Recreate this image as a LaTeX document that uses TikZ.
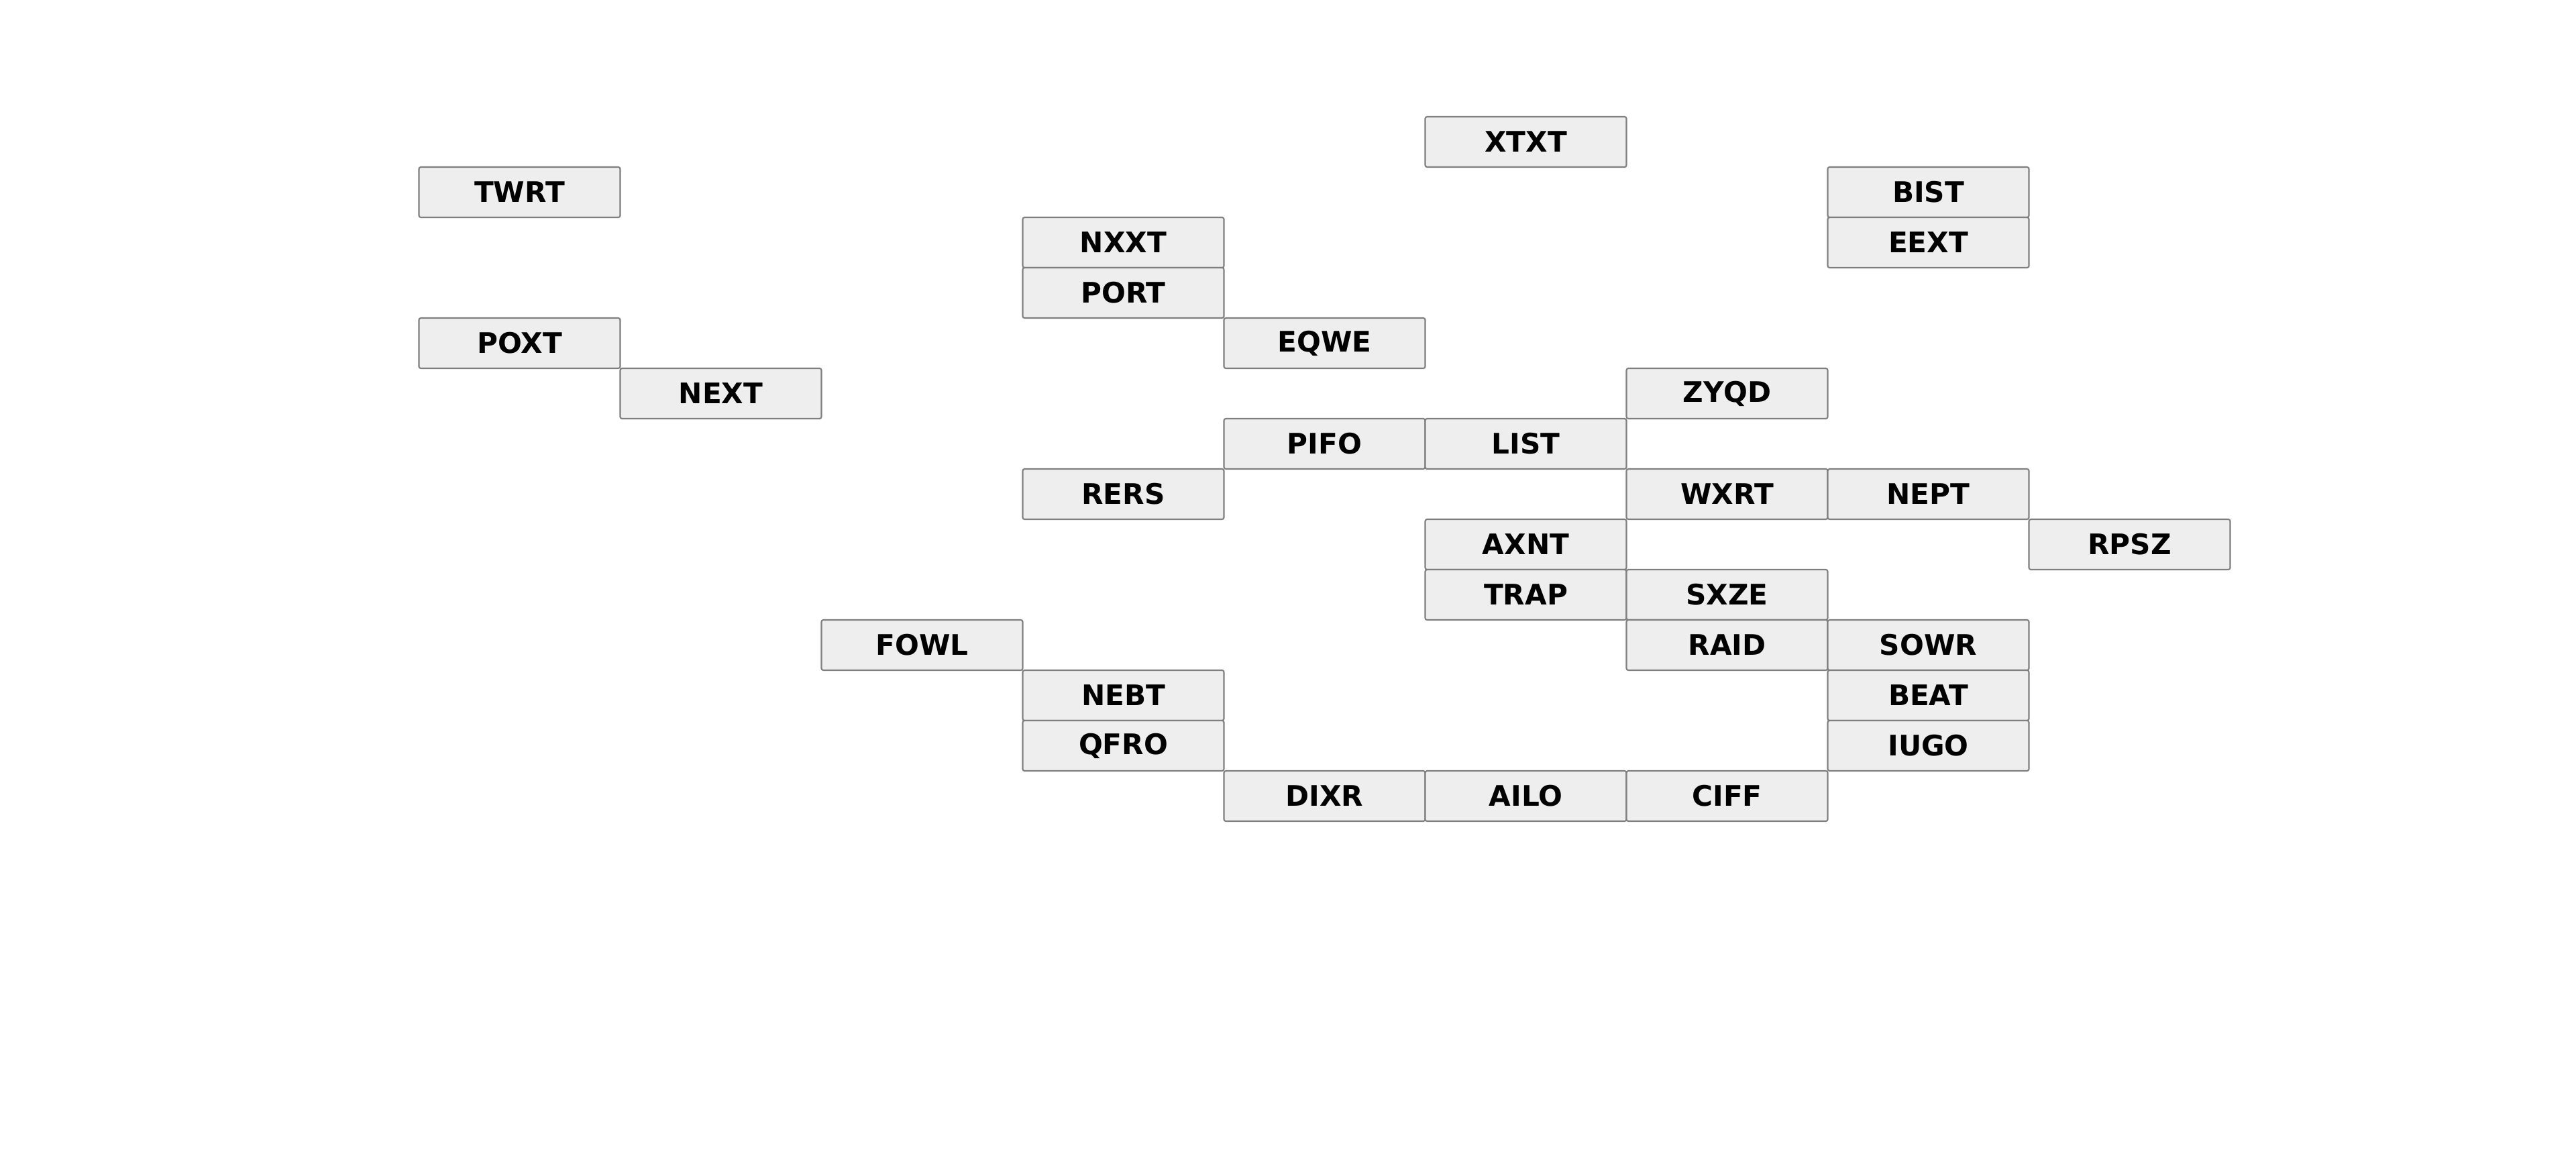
\documentclass[tikz,border=0pt]{standalone}
\usepackage{fontspec}
\setmainfont{DejaVu Sans}
\newcommand{\grid}{
\def\cw{3.0}    % cell width
\def\rh{0.75}   % cell height
\def\xo{7.745}  % centre of first column
\def\yo{-2.115} % centre of first row
}
\definecolor{cellfill}{HTML}{EEEEEE}
\definecolor{celledge}{HTML}{7F7F7F}
\tikzset{cell/.style={draw=celledge,fill=cellfill,line width=0.6pt,rounded corners=0.8pt,
  minimum width=3cm,minimum height=0.75cm,inner sep=0pt,
  font=\fontsize{12}{14}\selectfont\bfseries}}

\begin{document}
\begin{tikzpicture}
  \grid
  \useasboundingbox (0,0) rectangle (38.4,-17.31);
  \node[cell] (xtxt) at ({\xo+5*\cw},{\yo-0*\rh})  {XTXT};
  \node[cell] (twrt) at ({\xo+0*\cw},{\yo-1*\rh})  {TWRT};
  \node[cell] (bist) at ({\xo+7*\cw},{\yo-1*\rh})  {BIST};
  \node[cell] (nxxt) at ({\xo+3*\cw},{\yo-2*\rh})  {NXXT};
  \node[cell] (eext) at ({\xo+7*\cw},{\yo-2*\rh})  {EEXT};
  \node[cell] (port) at ({\xo+3*\cw},{\yo-3*\rh})  {PORT};
  \node[cell] (poxt) at ({\xo+0*\cw},{\yo-4*\rh})  {POXT};
  \node[cell] (eqwe) at ({\xo+4*\cw},{\yo-4*\rh})  {EQWE};
  \node[cell] (next) at ({\xo+1*\cw},{\yo-5*\rh})  {NEXT};
  \node[cell] (zyqd) at ({\xo+6*\cw},{\yo-5*\rh})  {ZYQD};
  \node[cell] (pifo) at ({\xo+4*\cw},{\yo-6*\rh})  {PIFO};
  \node[cell] (list) at ({\xo+5*\cw},{\yo-6*\rh})  {LIST};
  \node[cell] (rers) at ({\xo+3*\cw},{\yo-7*\rh})  {RERS};
  \node[cell] (wxrt) at ({\xo+6*\cw},{\yo-7*\rh})  {WXRT};
  \node[cell] (nept) at ({\xo+7*\cw},{\yo-7*\rh})  {NEPT};
  \node[cell] (axnt) at ({\xo+5*\cw},{\yo-8*\rh})  {AXNT};
  \node[cell] (rpsz) at ({\xo+8*\cw},{\yo-8*\rh})  {RPSZ};
  \node[cell] (trap) at ({\xo+5*\cw},{\yo-9*\rh})  {TRAP};
  \node[cell] (sxze) at ({\xo+6*\cw},{\yo-9*\rh})  {SXZE};
  \node[cell] (fowl) at ({\xo+2*\cw},{\yo-10*\rh}) {FOWL};
  \node[cell] (raid) at ({\xo+6*\cw},{\yo-10*\rh}) {RAID};
  \node[cell] (sowr) at ({\xo+7*\cw},{\yo-10*\rh}) {SOWR};
  \node[cell] (nebt) at ({\xo+3*\cw},{\yo-11*\rh}) {NEBT};
  \node[cell] (beat) at ({\xo+7*\cw},{\yo-11*\rh}) {BEAT};
  \node[cell] (qfro) at ({\xo+3*\cw},{\yo-12*\rh}) {QFRO};
  \node[cell] (iugo) at ({\xo+7*\cw},{\yo-12*\rh}) {IUGO};
  \node[cell] (dixr) at ({\xo+4*\cw},{\yo-13*\rh}) {DIXR};
  \node[cell] (ailo) at ({\xo+5*\cw},{\yo-13*\rh}) {AILO};
  \node[cell] (ciff) at ({\xo+6*\cw},{\yo-13*\rh}) {CIFF};
\end{tikzpicture}
\end{document}
